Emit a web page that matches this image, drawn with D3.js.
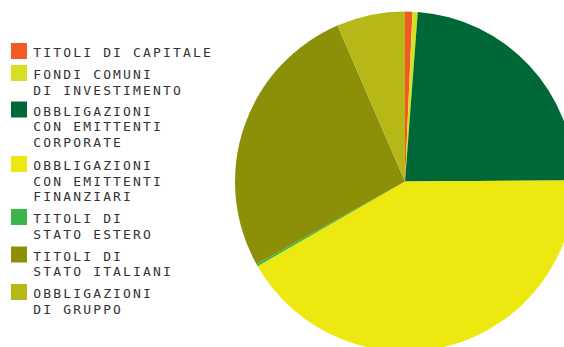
<!DOCTYPE html>
<html>
<head>
<meta charset="utf-8">
<script src="https://cdn.jsdelivr.net/npm/d3@7/dist/d3.min.js"></script>
<style>
  html, body { margin: 0; padding: 0; background: #fff; }
  svg { display: block; }
</style>
</head>
<body>
<svg id="chart" width="564" height="347"></svg>
<script>
// Portfolio composition (%)
const categories = [
  ["TITOLI DI CAPITALE"],
  ["FONDI COMUNI", "DI INVESTIMENTO"],
  ["OBBLIGAZIONI", "CON EMITTENTI", "CORPORATE"],
  ["OBBLIGAZIONI", "CON EMITTENTI", "FINANZIARI"],
  ["TITOLI DI", "STATO ESTERO"],
  ["TITOLI DI", "STATO ITALIANI"],
  ["OBBLIGAZIONI", "DI GRUPPO"]
];
const values = [0.7, 0.5, 23.7, 41.8, 0.2, 26.6, 6.5];
const colors = ["#F15A24", "#D7DF23", "#006837", "#EDE80F", "#39B54A", "#8C8F08", "#B5B816"];

const svg = d3.select("#chart");
const data = values.map((v, i) => ({ label: categories[i], value: v, color: colors[i] }));

// Pie
const cx = 405, cy = 181.5, r = 170;
const pie = d3.pie().value(d => d.value).sort(null);
const arc = d3.arc().innerRadius(0).outerRadius(r);

svg.append("g")
  .attr("transform", `translate(${cx},${cy})`)
  .selectAll("path")
  .data(pie(data))
  .join("path")
  .attr("d", arc)
  .attr("fill", d => d.data.color);

// Legend
const legendTops = [43, 65, 101.5, 156, 209, 246.5, 284];
const lineH = 15.5;
const legend = svg.append("g");
data.forEach((d, i) => {
  const g = legend.append("g").attr("transform", `translate(11,${legendTops[i]})`);
  g.append("rect").attr("width", 16).attr("height", 16).attr("fill", d.color);
  const t = g.append("text")
    .attr("font-family", "'DejaVu Sans Mono', monospace")
    .attr("font-size", 13)
    .attr("letter-spacing", "2.15px")
    .attr("fill", "#333");
  d.label.forEach((line, j) => {
    t.append("tspan").attr("x", 22.3).attr("y", 14 + j * lineH).text(line);
  });
});
</script>
</body>
</html>
